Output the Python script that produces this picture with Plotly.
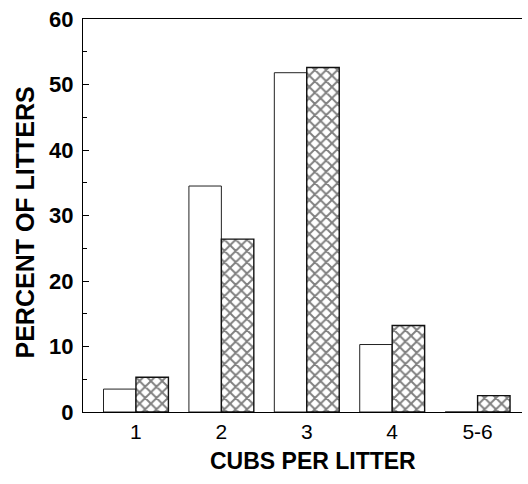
import plotly.graph_objects as go

categories = ["1", "2", "3", "4", "5-6"]
open_values = [3.5, 34.5, 51.8, 10.3, 0]
hatched_values = [5.3, 26.4, 52.6, 13.2, 2.5]
y_ticks = [0, 10, 20, 30, 40, 50, 60]
y_minor = [5, 15, 25, 35, 45, 55]

xpos = list(range(1, len(categories) + 1))
FAM = "Liberation Sans, Arial, Helvetica, sans-serif"

fig = go.Figure()
fig.add_trace(go.Bar(
    x=xpos, y=open_values, name="open",
    marker=dict(color="white", line=dict(color="#222", width=1)),
))
fig.add_trace(go.Bar(
    x=xpos, y=hatched_values, name="hatched",
    marker=dict(color="white", line=dict(color="#111", width=1.4),
                pattern=dict(shape="x", fgcolor="black", bgcolor="white",
                             size=8, solidity=0.42)),
))

fig.update_layout(
    width=528, height=484,
    margin=dict(l=83, r=6, t=19, b=72, autoexpand=False),
    paper_bgcolor="white", plot_bgcolor="white",
    barmode="group", bargap=0.24, bargroupgap=0,
    showlegend=False,
    font=dict(family=FAM, size=17, color="black"),
    xaxis=dict(
        tickvals=xpos, ticktext=categories, range=[0.38, 5.52],
        showline=True, linecolor="black", linewidth=1.2, mirror=True,
        ticks="", showgrid=False, zeroline=False, automargin=False,
        ticklabelstandoff=1,
        tickfont=dict(family=FAM, size=21, color="black"),
    ),
    yaxis=dict(
        range=[0, 60], tickvals=y_ticks,
        ticktext=["<b>%d</b>" % v for v in y_ticks],
        showline=True, linecolor="black", linewidth=1.2,
        ticks="inside", ticklen=6, tickcolor="black",
        minor=dict(tickvals=y_minor, ticks="inside", ticklen=4, tickcolor="black"),
        showgrid=False, zeroline=False, automargin=False,
        ticklabelstandoff=4,
        tickfont=dict(family=FAM, size=22, color="black"),
    ),
    annotations=[
        dict(text="<b>CUBS PER LITTER</b>", xref="paper", yref="paper",
             x=0.5, y=0, yshift=-49, xanchor="center", yanchor="middle",
             xshift=10, showarrow=False,
             font=dict(family=FAM, size=23, color="black")),
        dict(text="<b>PERCENT OF LITTERS</b>", xref="paper", yref="paper",
             x=0, y=0.5, xshift=-59, yshift=-7, textangle=-90,
             xanchor="center", yanchor="middle", showarrow=False,
             font=dict(family=FAM, size=25, color="black")),
    ],
)

fig.write_html("out.html", config={"displayModeBar": False},
               post_script="document.body.style.margin='0';document.body.style.overflow='hidden';")
